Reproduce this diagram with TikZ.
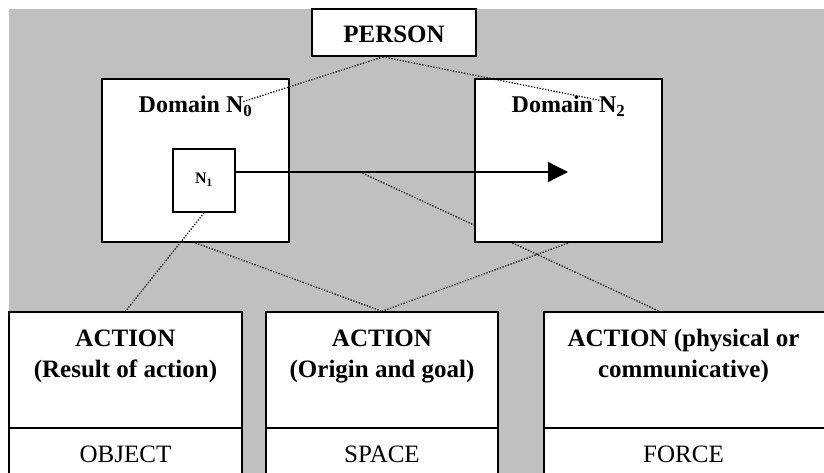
\documentclass[tikz,border=0pt]{standalone}
\usepackage{fontspec}
\setmainfont{Liberation Serif}
\usetikzlibrary{arrows.meta,calc,backgrounds}
\definecolor{bggray}{RGB}{192,192,192}
\begin{document}
\begin{tikzpicture}[x=1pt,y=-1pt,
  heavybox/.style={draw=black, fill=white, line width=1.8pt, inner sep=0pt},
  lightbox/.style={draw=black, fill=white, line width=1.4pt, inner sep=0pt},
  boldtxt/.style={inner sep=0pt, anchor=base, font=\fontsize{25}{30}\selectfont\bfseries},
  domtxt/.style={inner sep=0pt, anchor=base, font=\fontsize{24}{29}\selectfont\bfseries},
  smalltxt/.style={inner sep=0pt, anchor=base, font=\fontsize{16}{19}\selectfont\bfseries},
  plaintxt/.style={inner sep=0pt, anchor=base, font=\fontsize{25}{30}\selectfont},
  dots/.style={draw=black, line width=1.25pt, dash pattern=on 1.25pt off 1.6pt},
]
\useasboundingbox (0,0) rectangle (824,473);
\clip (0,0) rectangle (824,473);

% boxes
\node[heavybox, minimum width=164pt, minimum height=47pt] (person) at (394,32.5) {};
\node[heavybox, minimum width=187pt, minimum height=163pt] (dom0) at (195.5,160.5) {};
\node[heavybox, minimum width=187pt, minimum height=163pt] (dom2) at (568.5,160.5) {};
\node[heavybox, minimum width=62pt, minimum height=63pt] (n1) at (204,180.5) {};

\node[lightbox, minimum width=233pt, minimum height=116pt] (box1) at (125.5,370) {};
\node[lightbox, minimum width=233pt, minimum height=62pt] (box1b) at (125.5,459) {};
\node[lightbox, minimum width=232pt, minimum height=116pt] (box2) at (382,370) {};
\node[lightbox, minimum width=232pt, minimum height=62pt] (box2b) at (382,459) {};
\node[lightbox, minimum width=282pt, minimum height=116pt] (box3) at (685,370) {};
\node[lightbox, minimum width=282pt, minimum height=62pt] (box3b) at (685,459) {};

% labels
\node[boldtxt] (personlbl) at (394,43) {PERSON};
\node[domtxt] (dom0lbl) at (195.5,113) {Domain N\textsubscript{0}};
\node[domtxt] (dom2lbl) at (568.5,113) {Domain N\textsubscript{2}};
\node[smalltxt] (n1lbl) at (204,184) {N\textsubscript{1}};

\node[boldtxt] (a1) at (125.5,346) {ACTION};
\node[boldtxt] (a1b) at (125.5,377) {(Result of action)};
\node[plaintxt] (obj) at (125.5,462) {OBJECT};
\node[boldtxt] (a2) at (382,346) {ACTION};
\node[boldtxt] (a2b) at (382,377) {(Origin and goal)};
\node[plaintxt] (spc) at (382,462) {SPACE};
\node[boldtxt] (a3) at (683.5,346) {ACTION (physical or};
\node[boldtxt] (a3b) at (683.5,377) {communicative)};
\node[plaintxt] (frc) at (683.5,462) {FORCE};

% free ends
\coordinate (p0) at (242,102);
\coordinate (p2) at (603,101);
\coordinate (tip) at (568,172);
\coordinate (mid) at (360,172);

\begin{scope}[on background layer]
  \fill[bggray] (9,9) rectangle (830,480);
  \draw[dots] (mid) -- ($(box3.north west)+(116,0)$);
\end{scope}

% connectors
\draw[dots] ($(person.south)+(-11,0)$) -- (p0);
\draw[dots] ($(person.south)+(-11,0)$) -- (p2);
\draw[dots] (n1.south) -- (box1.north);
\draw[dots] (dom0.south) -- (box2.north);
\draw[dots] (box2.north) -- (dom2.south);
\draw[line width=1.5pt, -{Triangle[length=20pt,width=20pt]}] ($(n1.east)+(0,-8.5)$) -- (tip);
\end{tikzpicture}
\end{document}
